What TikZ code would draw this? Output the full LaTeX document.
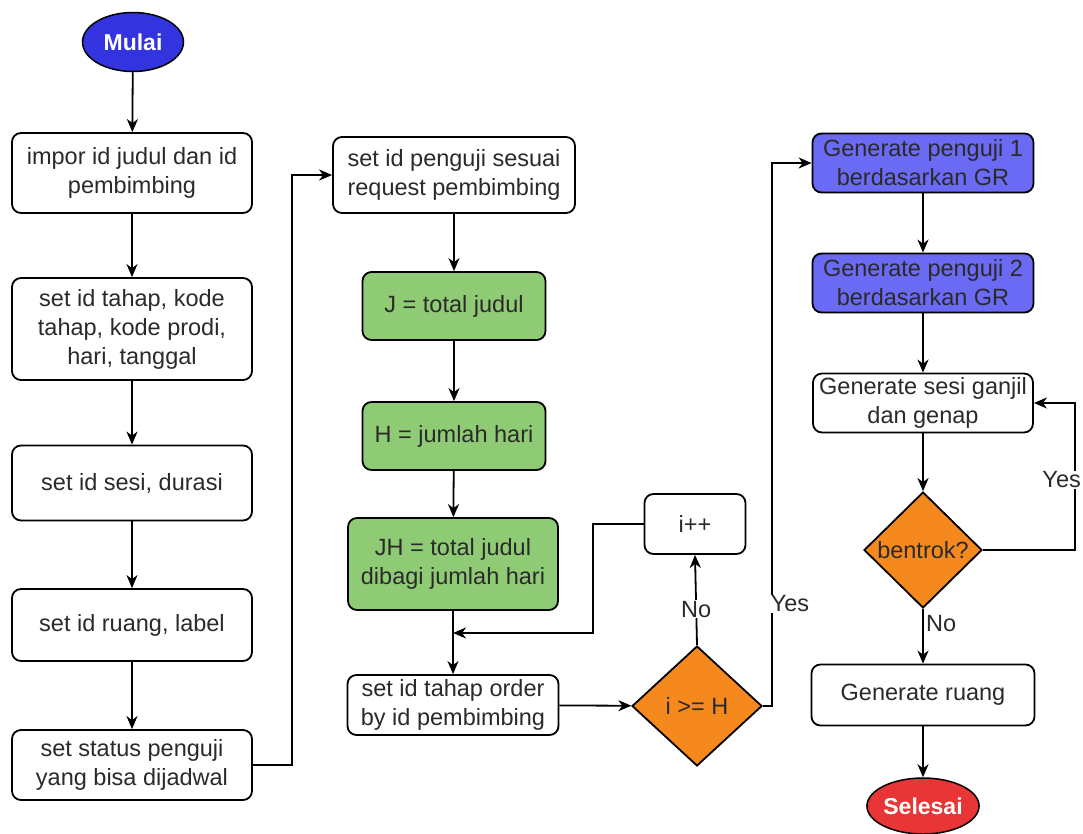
\documentclass[tikz,border=0pt]{standalone}
\usepackage{fontspec}
\setmainfont{Liberation Sans}
\usetikzlibrary{arrows.meta,shapes.geometric}
\definecolor{txt}{HTML}{2A2A2A}
\definecolor{gfill}{HTML}{8FCB74}
\definecolor{bfill}{HTML}{6A6AF4}
\definecolor{sfill}{HTML}{3333E0}
\definecolor{ofill}{HTML}{F5891E}
\definecolor{rfill}{HTML}{E83535}
\begin{document}
\begin{tikzpicture}[x=1pt,y=-1pt,
  every node/.style={font=\fontsize{23.5}{29}\selectfont, text=txt},
  proc/.style={draw=black, line width=1.8pt, rounded corners=9pt, fill=white, align=center, inner sep=0pt},
  green/.style={proc, fill=gfill},
  blue/.style={proc, fill=bfill},
  dec/.style={diamond, draw=black, line width=1.8pt, fill=ofill, inner sep=0pt, align=center},
  term/.style={ellipse, draw=black, line width=1.5pt, inner sep=0pt, text=white, font=\fontsize{23}{28}\selectfont\bfseries},
  arr/.style={draw=black, line width=1.8pt, -{Stealth[length=13pt,width=11pt,inset=4pt]}},
  lbl/.style={fill=white, inner sep=1pt}
]
\useasboundingbox (0,0) rectangle (1083,833);

% left column
\node[term, fill=sfill, minimum width=101pt, minimum height=59pt] (start) at (133,42) {Mulai};
\node[proc, minimum width=240pt, minimum height=80pt] (b1) at (132,173) {impor id judul dan id\\pembimbing};
\node[proc, minimum width=240pt, minimum height=102pt] (b2) at (132,329) {set id tahap, kode\\tahap, kode prodi,\\hari, tanggal};
\node[proc, minimum width=240pt, minimum height=75pt] (b3) at (132,483) {set id sesi, durasi};
\node[proc, minimum width=240pt, minimum height=72pt] (b4) at (132,625) {set id ruang, label};
\node[proc, minimum width=240pt, minimum height=70pt] (b5) at (132,765) {set status penguji\\yang bisa dijadwal};

% middle column
\node[proc, minimum width=242pt, minimum height=76pt] (b6) at (454,175) {set id penguji sesuai\\request pembimbing};
\node[green, minimum width=183pt, minimum height=68pt] (g1) at (454,306) {J = total judul};
\node[green, minimum width=183pt, minimum height=68pt] (g2) at (454,436) {H = jumlah hari};
\node[green, minimum width=210pt, minimum height=92pt] (g3) at (453,564) {JH = total judul\\dibagi jumlah hari};
\node[proc, minimum width=211pt, minimum height=60pt] (b10) at (453,705) {set id tahap order\\by id pembimbing};
\node[dec, minimum width=130pt, minimum height=120pt] (d1) at (697,706) {i >= H};
\node[proc, minimum width=101pt, minimum height=60pt] (inc) at (695,524) {i++};

% right column
\node[blue, minimum width=221pt, minimum height=59pt] (bl1) at (923,163) {Generate penguji 1\\berdasarkan GR};
\node[blue, minimum width=221pt, minimum height=59pt] (bl2) at (923,283) {Generate penguji 2\\berdasarkan GR};
\node[proc, minimum width=220pt, minimum height=59pt] (b13) at (923,403) {Generate sesi ganjil\\dan genap};
\node[dec, minimum width=118pt, minimum height=116pt] (d2) at (923,550) {bentrok?};
\node[proc, minimum width=223pt, minimum height=61pt] (b14) at (923,695) {Generate ruang};
\node[term, fill=rfill, minimum width=100pt, minimum height=56pt] (end) at (923,806) {Selesai};

% coordinates
\coordinate (k1) at (292,765);
\coordinate (jr) at (593,633);
\coordinate (j) at (453,633);
\coordinate (k2) at (772,706);
\coordinate (k3) at (1075,550);

% connectors
\draw[arr] (start) -- (b1);
\draw[arr] (b1) -- (b2);
\draw[arr] (b2) -- (b3);
\draw[arr] (b3) -- (b4);
\draw[arr] (b4) -- (b5);
\draw[arr] (b5.east) -- (k1) |- (b6.west);
\draw[arr] (b6) -- (g1);
\draw[arr] (g1) -- (g2);
\draw[arr] (g2) -- (g3);
\draw[arr] (g3) -- (b10);
\draw[arr] (inc.west) -| (jr) -- (j);
\draw[arr] (b10) -- (d1);
\draw[arr] (d1.north) -- node[lbl, pos=0.4] (no1) {No} (inc.south);
\draw[arr] (d1.east) -- (k2) |- (bl1.west);
\node[lbl] (yes1) at (790,604) {Yes};
\draw[arr] (bl1) -- (bl2);
\draw[arr] (bl2) -- (b13);
\draw[arr] (b13) -- (d2);
\draw[arr] (d2.east) -- (k3) |- (b13.east);
\node[lbl, anchor=east] (yes2) at (1082,480) {Yes};
\draw[arr] (d2.south) -- (b14.north);
\node[anchor=west, inner sep=1pt] (no2) at (925,624) {No};
\draw[arr] (b14) -- (end);
\end{tikzpicture}
\end{document}
